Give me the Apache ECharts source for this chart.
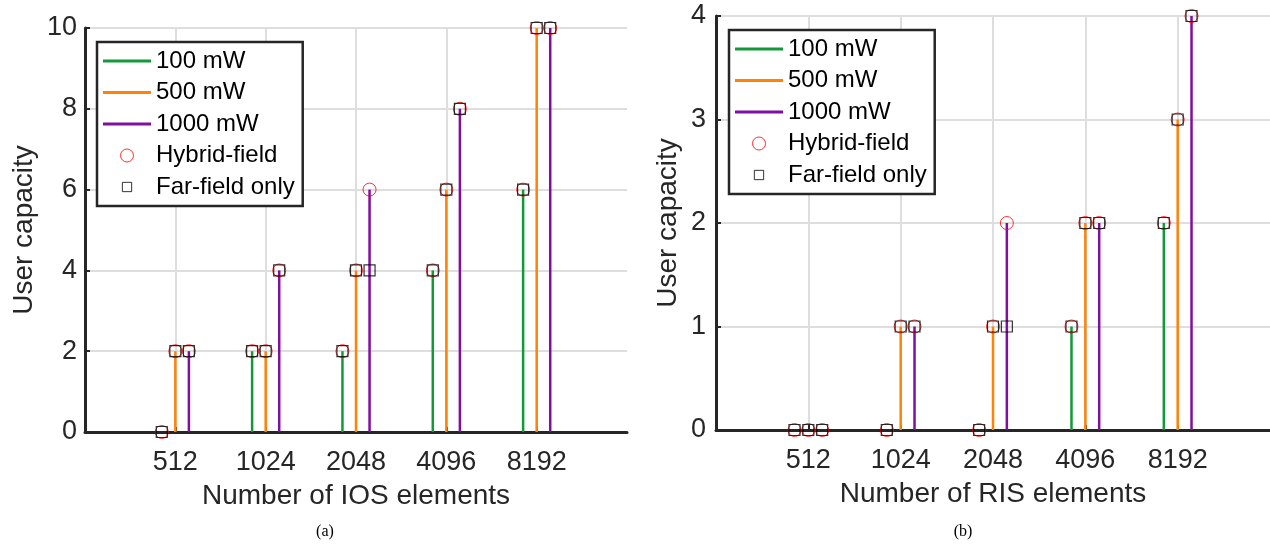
<!DOCTYPE html>
<html>
<head>
<meta charset="utf-8">
<script src="https://cdn.jsdelivr.net/npm/echarts@6/dist/echarts.min.js"></script>
<style>
  html, body { margin: 0; padding: 0; background: #fff; }
  #chart { width: 1270px; height: 544px; }
</style>
</head>
<body>
<div id="chart"></div>
<script>
// categories (both panels)
const categories = ["512", "1024", "2048", "4096", "8192"];
const powers = ["100 mW", "500 mW", "1000 mW"];

// (a) IOS - hybrid-field
const iosHybrid100 = [0, 2, 2, 4, 6];
const iosHybrid500 = [2, 2, 4, 6, 10];
const iosHybrid1000 = [2, 4, 6, 8, 10];
// (a) IOS - far-field only
const iosFar100 = [0, 2, 2, 4, 6];
const iosFar500 = [2, 2, 4, 6, 10];
const iosFar1000 = [2, 4, 4, 8, 10];

// (b) RIS - hybrid-field
const risHybrid100 = [0, 0, 0, 1, 2];
const risHybrid500 = [0, 1, 1, 2, 3];
const risHybrid1000 = [0, 1, 2, 2, 4];
// (b) RIS - far-field only
const risFar100 = [0, 0, 0, 1, 2];
const risFar500 = [0, 1, 1, 2, 3];
const risFar1000 = [0, 1, 1, 2, 4];

const colors = ["#13993a", "#ff8307", "#800ea0"];
const offsets = [-0.15, 0, 0.15];
const textColor = "#262626";
const font = "Liberation Sans";

function pts(arr, k) {
  return arr.map((v, i) => [i + 1 + offsets[k], v]);
}

function stem(params, api) {
  const v = api.value(1);
  if (!v) return null;
  const top = api.coord([api.value(0), v]);
  const base = api.coord([api.value(0), 0]);
  return {
    type: "line",
    shape: { x1: base[0], y1: base[1], x2: top[0], y2: top[1] },
    style: { stroke: api.visual("color"), lineWidth: 2.5 },
  };
}

function xAxisOpt(idx, name) {
  return {
    type: "value",
    gridIndex: idx,
    min: 0,
    max: 6,
    interval: 1,
    name: name,
    nameLocation: "middle",
    nameGap: 50,
    nameTextStyle: { fontFamily: font, fontSize: 28, color: textColor },
    axisLine: { lineStyle: { color: textColor, width: 3 } },
    axisTick: { show: true, inside: true, length: 5, customValues: [1, 2, 3, 4, 5], lineStyle: { color: textColor, width: 2 } },
    axisLabel: {
      customValues: [1, 2, 3, 4, 5],
      formatter: (v) => categories[v - 1],
      fontFamily: font, fontSize: 27, color: textColor, margin: 17,
    },
    splitLine: {
      show: true,
      lineStyle: {
        color: ["#dedede", "#dedede", "#dedede", "#dedede", "#dedede", "#dedede", "rgba(0,0,0,0)"],
        width: 2,
      },
    },
  };
}

function yAxisOpt(idx, max, interval, gap, margin) {
  return {
    type: "value",
    gridIndex: idx,
    min: 0,
    max: max,
    interval: interval,
    name: "User capacity",
    nameLocation: "middle",
    nameRotate: 90,
    nameGap: gap,
    nameTextStyle: { fontFamily: font, fontSize: 28, color: textColor },
    axisLine: { show: true, lineStyle: { color: textColor, width: 3 } },
    axisTick: { show: true, inside: true, length: 5, lineStyle: { color: textColor, width: 2 } },
    axisLabel: { fontFamily: font, fontSize: 27, color: textColor, margin: margin },
    splitLine: { show: true, lineStyle: { color: "#dedede", width: 2 } },
  };
}

function panelSeries(idx, hybrid, far) {
  const out = [];
  hybrid.forEach((arr, k) => {
    out.push({
      name: powers[k],
      type: "custom",
      xAxisIndex: idx, yAxisIndex: idx,
      renderItem: stem,
      itemStyle: { color: colors[k] },
      encode: { x: 0, y: 1 },
      data: pts(arr, k),
      z: 2,
    });
  });
  out.push({
    name: "Hybrid-field",
    type: "scatter",
    xAxisIndex: idx, yAxisIndex: idx,
    symbol: "circle",
    symbolSize: 13,
    itemStyle: { color: "rgba(0,0,0,0)", borderColor: "#ff0000", borderWidth: 1 },
    data: [].concat(...hybrid.map((arr, k) => pts(arr, k))),
    z: 3,
  });
  out.push({
    name: "Far-field only",
    type: "scatter",
    xAxisIndex: idx, yAxisIndex: idx,
    symbol: "rect",
    symbolSize: 11,
    itemStyle: { color: "rgba(0,0,0,0)", borderColor: "#000000", borderWidth: 1.2 },
    data: [].concat(...far.map((arr, k) => pts(arr, k))),
    z: 4,
  });
  return out;
}

const lineIcon = "path://M0,0H48V3H0Z";
const squareIcon = "path://M0,0M14,14M2,2H12V12H2Z";

function legendOpt(left, top) {
  return {
    orient: "vertical",
    left: left,
    top: top,
    align: "left",
    padding: [7, 8, 7, 6],
    itemGap: 7.5,
    itemWidth: 48,
    itemHeight: 13,
    backgroundColor: "#ffffff",
    borderColor: textColor,
    borderWidth: 2.5,
    borderRadius: 0,
    selectedMode: false,
    textStyle: { fontFamily: font, fontSize: 24, color: "#000", lineHeight: 24, padding: [0, 0, 0, 0] },
    data: [
      { name: powers[0], icon: lineIcon, itemStyle: { color: colors[0], borderWidth: 0 } },
      { name: powers[1], icon: lineIcon, itemStyle: { color: colors[1], borderWidth: 0 } },
      { name: powers[2], icon: lineIcon, itemStyle: { color: colors[2], borderWidth: 0 } },
      { name: "Hybrid-field", icon: "circle", itemStyle: { color: "rgba(0,0,0,0)", borderColor: "#ff0000", borderWidth: 1 } },
      { name: "Far-field only", icon: squareIcon, itemStyle: { color: "rgba(0,0,0,0)", borderColor: "#000000", borderWidth: 1 } },
    ],
  };
}

const chart = echarts.init(document.getElementById("chart"), null, { renderer: "canvas" });
const option = {
  backgroundColor: "#fff",
  animation: false,
  title: [
    { text: "(a)", left: 320, top: 519, textAlign: "center", textStyle: { fontFamily: "Liberation Serif", fontSize: 16, fontWeight: "normal", color: "#000" } },
    { text: "(b)", left: 958, top: 519, textAlign: "center", textStyle: { fontFamily: "Liberation Serif", fontSize: 16, fontWeight: "normal", color: "#000" } },
  ],
  grid: [
    { left: 85, right: 643, top: 28, bottom: 112, containLabel: false },
    { left: 716, right: 0, top: 16, bottom: 114, containLabel: false },
  ],
  legend: [legendOpt(97, 42), legendOpt(729, 30)],
  xAxis: [xAxisOpt(0, "Number of IOS elements"), xAxisOpt(1, "Number of RIS elements")],
  yAxis: [yAxisOpt(0, 10, 2, 47, 8), yAxisOpt(1, 4, 1, 34, 10)],
  series: [].concat(
    panelSeries(0, [iosHybrid100, iosHybrid500, iosHybrid1000], [iosFar100, iosFar500, iosFar1000]),
    panelSeries(1, [risHybrid100, risHybrid500, risHybrid1000], [risFar100, risFar500, risFar1000])
  ),
};
chart.setOption(option);
</script>
</body>
</html>
